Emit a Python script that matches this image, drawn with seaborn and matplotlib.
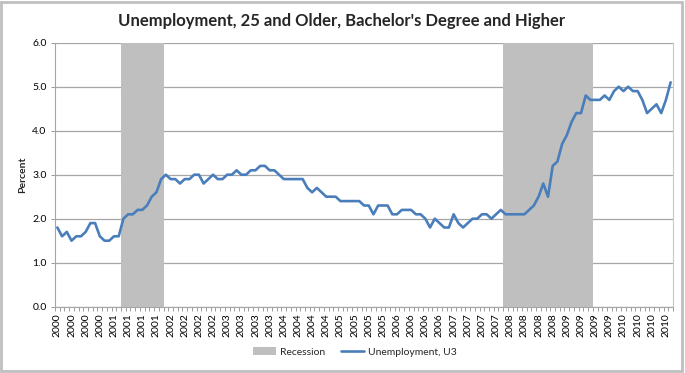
import matplotlib
matplotlib.use("Agg")
import matplotlib.pyplot as plt
import seaborn as sns
import pandas as pd
from matplotlib.patches import Patch, Rectangle
from matplotlib.lines import Line2D

# ---- data (monthly, Jan 2000 .. Nov 2010) ----
unemployment = [
    1.8, 1.6, 1.7, 1.5, 1.6, 1.6, 1.7, 1.9, 1.9, 1.6, 1.5, 1.5,   # 2000
    1.6, 1.6, 2.0, 2.1, 2.1, 2.2, 2.2, 2.3, 2.5, 2.6, 2.9, 3.0,   # 2001
    2.9, 2.9, 2.8, 2.9, 2.9, 3.0, 3.0, 2.8, 2.9, 3.0, 2.9, 2.9,   # 2002
    3.0, 3.0, 3.1, 3.0, 3.0, 3.1, 3.1, 3.2, 3.2, 3.1, 3.1, 3.0,   # 2003
    2.9, 2.9, 2.9, 2.9, 2.9, 2.7, 2.6, 2.7, 2.6, 2.5, 2.5, 2.5,   # 2004
    2.4, 2.4, 2.4, 2.4, 2.4, 2.3, 2.3, 2.1, 2.3, 2.3, 2.3, 2.1,   # 2005
    2.1, 2.2, 2.2, 2.2, 2.1, 2.1, 2.0, 1.8, 2.0, 1.9, 1.8, 1.8,   # 2006
    2.1, 1.9, 1.8, 1.9, 2.0, 2.0, 2.1, 2.1, 2.0, 2.1, 2.2, 2.1,   # 2007
    2.1, 2.1, 2.1, 2.1, 2.2, 2.3, 2.5, 2.8, 2.5, 3.2, 3.3, 3.7,   # 2008
    3.9, 4.2, 4.4, 4.4, 4.8, 4.7, 4.7, 4.7, 4.8, 4.7, 4.9, 5.0,   # 2009
    4.9, 5.0, 4.9, 4.9, 4.7, 4.4, 4.5, 4.6, 4.4, 4.7, 5.1,        # 2010
]
recession = [
    0, 0, 0, 0, 0, 0, 0, 0, 0, 0, 0, 0,
    0, 0, 6, 6, 6, 6, 6, 6, 6, 6, 6, 0,
    0, 0, 0, 0, 0, 0, 0, 0, 0, 0, 0, 0,
    0, 0, 0, 0, 0, 0, 0, 0, 0, 0, 0, 0,
    0, 0, 0, 0, 0, 0, 0, 0, 0, 0, 0, 0,
    0, 0, 0, 0, 0, 0, 0, 0, 0, 0, 0, 0,
    0, 0, 0, 0, 0, 0, 0, 0, 0, 0, 0, 0,
    0, 0, 0, 0, 0, 0, 0, 0, 0, 0, 0, 6,
    6, 6, 6, 6, 6, 6, 6, 6, 6, 6, 6, 6,
    6, 6, 6, 6, 6, 6, 0, 0, 0, 0, 0, 0,
    0, 0, 0, 0, 0, 0, 0, 0, 0, 0, 0,
]
tick_labels = [
    "2000", "2000", "2000", "2000",
    "2001", "2001", "2001", "2001",
    "2002", "2002", "2002", "2002",
    "2003", "2003", "2003", "2003",
    "2004", "2004", "2004", "2004",
    "2005", "2005", "2005", "2005",
    "2006", "2006", "2006", "2006",
    "2007", "2007", "2007", "2007",
    "2008", "2008", "2008", "2008",
    "2009", "2009", "2009", "2009",
    "2010", "2010", "2010", "2010",
]
label_step = 3

n = len(unemployment)
df = pd.DataFrame({"idx": range(n), "u3": unemployment, "rec": recession})

sns.set_theme(style="white")
plt.rcParams["font.family"] = ["Lato", "DejaVu Sans"]

W, H = 685, 373
fig = plt.figure(figsize=(W / 100, H / 100), dpi=100)
fig.patch.set_facecolor("white")

left, right, top, bottom = 55, 673, 42.7, 306.7
ax = fig.add_axes([left / W, 1 - bottom / H, (right - left) / W, (bottom - top) / H])

rec_color = "#bfbfbf"
line_color = "#4a7ebb"

sns.barplot(data=df, x="idx", y="rec", ax=ax, color=rec_color, width=1.0,
            saturation=1, linewidth=0, errorbar=None, zorder=1)
sns.lineplot(data=df, x="idx", y="u3", ax=ax, color=line_color, linewidth=1.9,
             zorder=3)

ax.set_xlim(-0.5, n - 0.5)
ax.set_ylim(0, 6)
ax.set_yticks([0, 1, 2, 3, 4, 5, 6])
ax.set_yticklabels([f"{v:.1f}" for v in range(7)], fontsize=7.5, color="#000000")

ax.set_xticks(list(range(0, n, label_step))[:len(tick_labels)])
ax.set_xticklabels(tick_labels, rotation=90, fontsize=7.5, color="#000000")
ax.set_xticks([i - 0.5 for i in range(n + 1)], minor=True)
ax.tick_params(axis="x", which="major", length=0, pad=5)
ax.tick_params(axis="x", which="minor", length=3, width=0.6, color="#8c8c8c",
               direction="out", bottom=True)
ax.tick_params(axis="y", which="major", length=3, width=0.6, color="#8c8c8c",
               direction="out", left=True, pad=3)

ax.set_xlabel("")
ax.set_ylabel("Percent", fontsize=7.5, fontweight="bold", labelpad=4)

ax.set_axisbelow(True)
ax.yaxis.grid(True, color="#a6a6a6", linewidth=0.9)
ax.xaxis.grid(False)

ax.spines["top"].set_visible(False)
for s in ["left", "bottom", "right"]:
    ax.spines[s].set_visible(True)
    ax.spines[s].set_color("#a6a6a6")
    ax.spines[s].set_linewidth(0.8)
ax.spines["right"].set_color("#c8c8c8")

fig.text(342 / W, 1 - 21 / H, "Unemployment, 25 and Older, Bachelor's Degree and Higher",
         ha="center", va="center", fontsize=12, fontweight="bold")

handles = [Patch(facecolor=rec_color, edgecolor="none", label="Recession"),
           Line2D([0], [0], color=line_color, linewidth=1.9, label="Unemployment, U3")]
fig.legend(handles=handles, loc="center", bbox_to_anchor=(355 / W, 1 - 352 / H),
           ncol=2, frameon=False, fontsize=7.5, handlelength=2.2, handleheight=0.7,
           columnspacing=1.5, handletextpad=0.4)

fig.patches.append(Rectangle((1 / W, 2 / H), 681 / W, 369 / H, transform=fig.transFigure,
                             fill=False, edgecolor="#bfbfbf", linewidth=2))

fig.savefig("out.png", dpi=100, facecolor="white")
